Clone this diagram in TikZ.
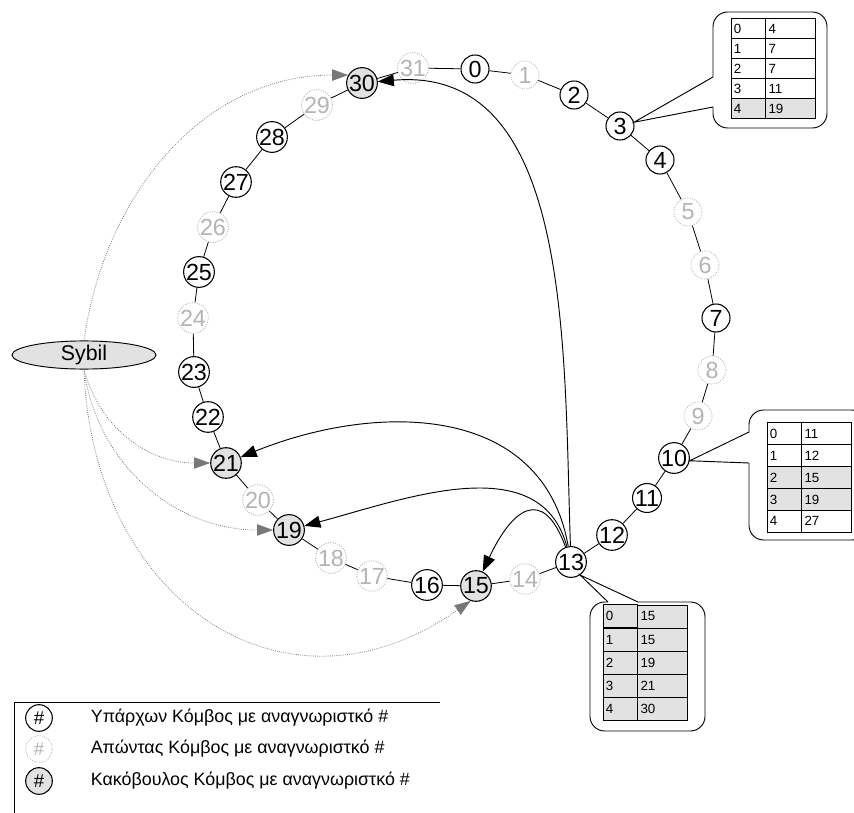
\documentclass[tikz,border=0pt]{standalone}
\usepackage{fontspec}
\setmainfont{Liberation Sans}
\usetikzlibrary{arrows.meta,positioning,shapes.geometric,matrix}

\definecolor{gonegray}{RGB}{180,180,180}
\definecolor{evilgray}{RGB}{226,226,226}
\definecolor{sybgray}{RGB}{120,120,120}

\begin{document}
\begin{tikzpicture}[x=0.75pt, y=-0.75pt,
    peer/.style={circle, draw, line width=0.8pt, fill=white, minimum size=21pt, inner sep=0pt, font=\fontsize{17.5}{17.5}\selectfont},
    absent/.style={peer, draw=gonegray, densely dotted, line width=0.6pt, text=gonegray},
    evil/.style={peer, fill=evilgray},
    ring/.style={line width=0.6pt},
    finger/.style={-{Triangle[length=12pt,width=9pt]}, line width=0.7pt},
    sybline/.style={-{Triangle[length=12pt,width=8.5pt]}, draw=sybgray, densely dotted, line width=0.6pt},
    callout/.style={line width=0.7pt, rounded corners=11pt},
    ftable/.style={matrix of nodes, row sep=-0.6pt, column sep=-0.6pt,
        nodes={draw, line width=0.6pt, inner sep=2pt, align=left, font=\fontsize{10}{10}\selectfont},
        column 1/.style={nodes={text width=22pt}},
        column 2/.style={nodes={text width=33.5pt}}},
    keytext/.style={font=\fontsize{13.4}{13.4}\selectfont}
]
\useasboundingbox (0,0) rectangle (854,813);
\clip (0,0) rectangle (854,813);

% the ring
\node[peer] (n0) at (475,69) {0};
\node[absent] (n1) at (525,75) {1};
\node[peer] (n2) at (574,95) {2};
\node[peer] (n3) at (620,126) {3};
\node[peer] (n4) at (660,160) {4};
\node[absent] (n5) at (688,212) {5};
\node[absent] (n6) at (705,265) {6};
\node[peer] (n7) at (716,318) {7};
\node[absent] (n8) at (712,370) {8};
\node[absent] (n9) at (698,416) {9};
\node[peer] (n10) at (674,458) {10};
\node[peer] (n11) at (647,498) {11};
\node[peer] (n12) at (612,535) {12};
\node[peer] (n13) at (571,562) {13};
\node[absent] (n14) at (525,579) {14};
\node[evil] (n15) at (476,586) {15};
\node[peer] (n16) at (427,585) {16};
\node[absent] (n17) at (372,576) {17};
\node[absent] (n18) at (331,558) {18};
\node[evil] (n19) at (289,530) {19};
\node[absent] (n20) at (258,500) {20};
\node[evil] (n21) at (226,463) {21};
\node[peer] (n22) at (208,417) {22};
\node[peer] (n23) at (194,372) {23};
\node[absent] (n24) at (193,318) {24};
\node[peer] (n25) at (199,272) {25};
\node[absent] (n26) at (213,227) {26};
\node[peer] (n27) at (236,182) {27};
\node[peer] (n28) at (272,137) {28};
\node[absent] (n29) at (317,105) {29};
\node[evil] (n30) at (362,83) {30};
\node[absent] (n31) at (413,68) {31};

\draw[ring] (n0) -- (n1) -- (n2) -- (n3) -- (n4) -- (n5) -- (n6) -- (n7) -- (n8) -- (n9) -- (n10)
    -- (n11) -- (n12) -- (n13) -- (n14) -- (n15) -- (n16) -- (n17) -- (n18) -- (n19) -- (n20)
    -- (n21) -- (n22) -- (n23) -- (n24) -- (n25) -- (n26) -- (n27) -- (n28) -- (n29) -- (n30)
    -- (n31) -- (n0);

% fingers of 13
\draw[finger] (n13) to[out=92, in=5] (n30);
\draw[finger] (n13) to[out=100, in=22, looseness=1.1] (n21);
\draw[finger] (n13) to[out=105, in=15] (n19);
\draw[finger] (n13) to[out=110, in=65, looseness=2] (n15);

% sybil
\node[ellipse, draw, line width=0.7pt, fill=evilgray, minimum width=108pt, minimum height=21pt, inner sep=0pt, font=\fontsize{16}{16}\selectfont] (sybil) at (84,355) {Sybil};
\draw[sybline] (sybil.north) to[out=82, in=180] (n30.150);
\draw[sybline] (sybil.south) to[out=-75, in=180] (n21);
\draw[sybline] (sybil.south) to[out=-82, in=180] (n19);
\draw[sybline] (sybil.south) to[out=-88, in=215, looseness=1.3] (n15.250);

% finger tables
\matrix[ftable, row 5/.style={nodes={fill=evilgray}}, nodes={minimum height=15pt}] (ft3) at (773.5,68.5) {
    0 & 4 \\ 1 & 7 \\ 2 & 7 \\ 3 & 11 \\ 4 & 19 \\
};
\draw[callout] (713,77) -- (713,12) -- (827,12) -- (827,128) -- (713,128) -- (713,107);
\draw[line width=0.7pt] (713,107) -- (n3.15) -- (713,77);

\matrix[ftable, row 3/.style={nodes={fill=evilgray}}, row 4/.style={nodes={fill=evilgray}}, nodes={minimum height=16.4pt}] (ft10) at (809.5,477.5) {
    0 & 11 \\ 1 & 12 \\ 2 & 15 \\ 3 & 19 \\ 4 & 27 \\
};
\draw[callout] (749,432) -- (749,410) -- (866,410) -- (866,540) -- (749,540) -- (749,463);
\draw[line width=0.7pt] (749,463) -- (n10.-10) -- (749,432);

\matrix[ftable, nodes={fill=evilgray, minimum height=17.25pt}] (ft13) at (645.5,662.5) {
    0 & 15 \\ 1 & 15 \\ 2 & 19 \\ 3 & 21 \\ 4 & 30 \\
};
\draw[callout] (638,602) -- (705,602) -- (705,731) -- (590,731) -- (590,602) -- (608,602);
\draw[line width=0.7pt] (608,602) -- (n13.-55) -- (638,602);

% legend
\draw[line width=0.6pt] (14,830) -- (14,702) -- (440,702);
\node[peer, minimum size=20pt, font=\fontsize{14}{14}\selectfont] (key1) at (39,718) {\#};
\node[absent, minimum size=20pt, font=\fontsize{14}{14}\selectfont] (key2) at (39,749) {\#};
\node[evil, minimum size=20pt, font=\fontsize{14}{14}\selectfont] (key3) at (39,781) {\#};
\node[keytext, right=25pt of key1] (keytext1) {Υπάρχων Κόμβος με αναγνωριστκό \#};
\node[keytext, right=25pt of key2] (keytext2) {Απώντας Κόμβος με αναγνωριστκό \#};
\node[keytext, right=25pt of key3] (keytext3) {Κακόβουλος Κόμβος με αναγνωριστκό \#};
\end{tikzpicture}
\end{document}
